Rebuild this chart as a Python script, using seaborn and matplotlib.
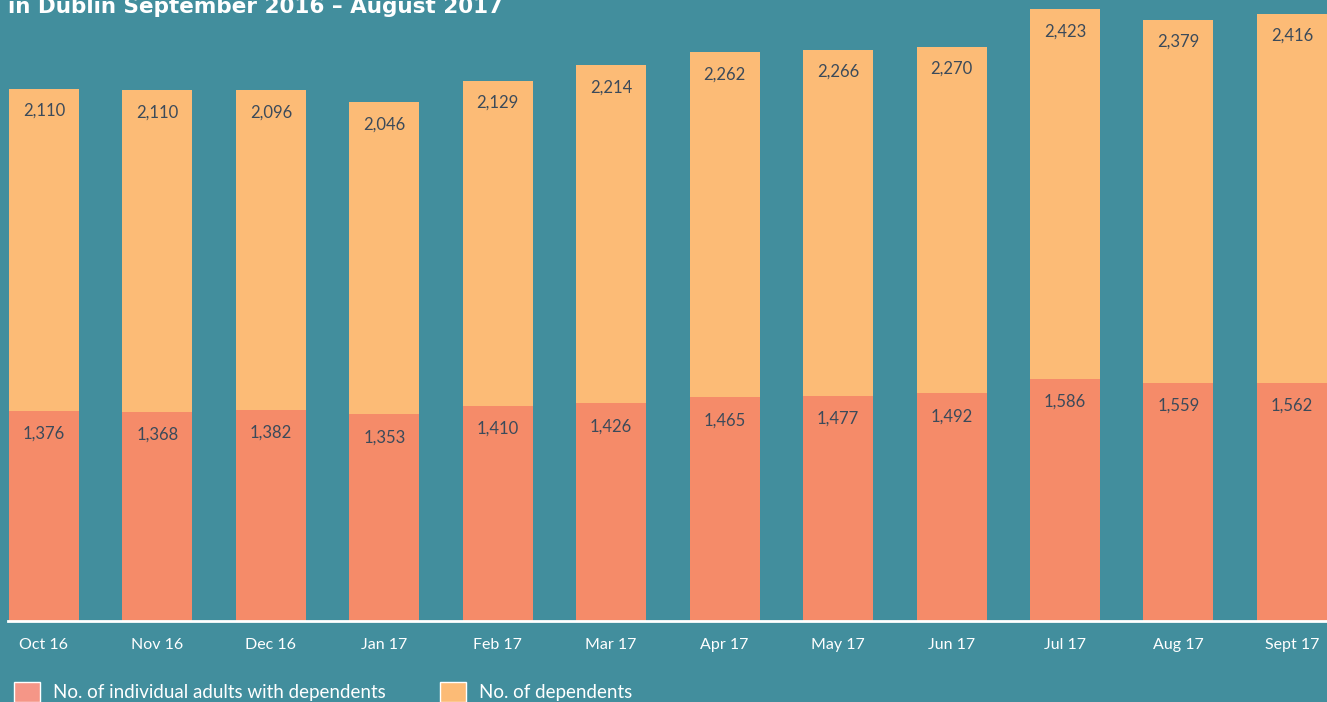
import pandas as pd
import matplotlib.pyplot as plt
import seaborn as sns
from matplotlib.patches import Patch

# data
months = ['Oct 16', 'Nov 16', 'Dec 16', 'Jan 17', 'Feb 17', 'Mar 17',
          'Apr 17', 'May 17', 'Jun 17', 'Jul 17', 'Aug 17', 'Sept 17']
adults = [1376, 1368, 1382, 1353, 1410, 1426, 1465, 1477, 1492, 1586, 1559, 1562]
dependents = [2110, 2110, 2096, 2046, 2129, 2214, 2262, 2266, 2270, 2423, 2379, 2416]

df = pd.DataFrame({'month': months, 'adults': adults, 'dependents': dependents})
df['total'] = df['adults'] + df['dependents']

bg = '#428E9D'
c_adults = '#F58B69'
c_dep = '#FCBB76'
c_text = '#3B4A5A'

sns.set_theme(style='white')
plt.rcParams['font.family'] = ['Lato', 'DejaVu Sans']

fig = plt.figure(figsize=(13.27, 7.02), dpi=100, facecolor=bg)
ax = fig.add_axes([8 / 1327, 81 / 702, 1319 / 1327, 621 / 702])
ax.set_facecolor(bg)

# stacked bars: total first, adults drawn over it
sns.barplot(data=df, x='month', y='total', color=c_dep, width=0.617,
            saturation=1, linewidth=0, ax=ax)
sns.barplot(data=df, x='month', y='adults', color=c_adults, width=0.617,
            saturation=1, linewidth=0, ax=ax)

for i, row in df.iterrows():
    ax.annotate(f"{row['dependents']:,}", (i, row['total']), xytext=(0, -16),
                textcoords='offset points', ha='center', va='center',
                fontsize=12, color=c_text)
    ax.annotate(f"{row['adults']:,}", (i, row['adults']), xytext=(0, -16.5),
                textcoords='offset points', ha='center', va='center',
                fontsize=12, color=c_text)

ax.set_xlim(-0.317, 11.31)
ax.set_ylim(0, 4068)
ax.set_xlabel('')
ax.set_ylabel('')
ax.set_yticks([])
for s in ['top', 'right', 'left']:
    ax.spines[s].set_visible(False)
ax.spines['bottom'].set_color('white')
ax.spines['bottom'].set_linewidth(2)
ax.tick_params(axis='x', length=0, pad=12.5, labelsize=11.5, labelcolor='white')

fig.text(8 / 1327, 1 - 13 / 702, 'in Dublin September 2016 – August 2017',
         color='white', fontsize=15.5, fontweight='bold', ha='left', va='baseline',
         family='DejaVu Sans')

handles = [Patch(facecolor='#F59687', label='No. of individual adults with dependents'),
           Patch(facecolor=c_dep, label='No. of dependents')]
fig.legend(handles=handles, loc='upper left', bbox_to_anchor=(6 / 1327, 1 - 674 / 702),
           ncol=2, frameon=False, fontsize=13.5, labelcolor='white',
           handlelength=1.4, handleheight=1.3, handletextpad=0.7,
           columnspacing=2.9, borderaxespad=0)

fig.savefig('out.png', dpi=100, facecolor=bg)
